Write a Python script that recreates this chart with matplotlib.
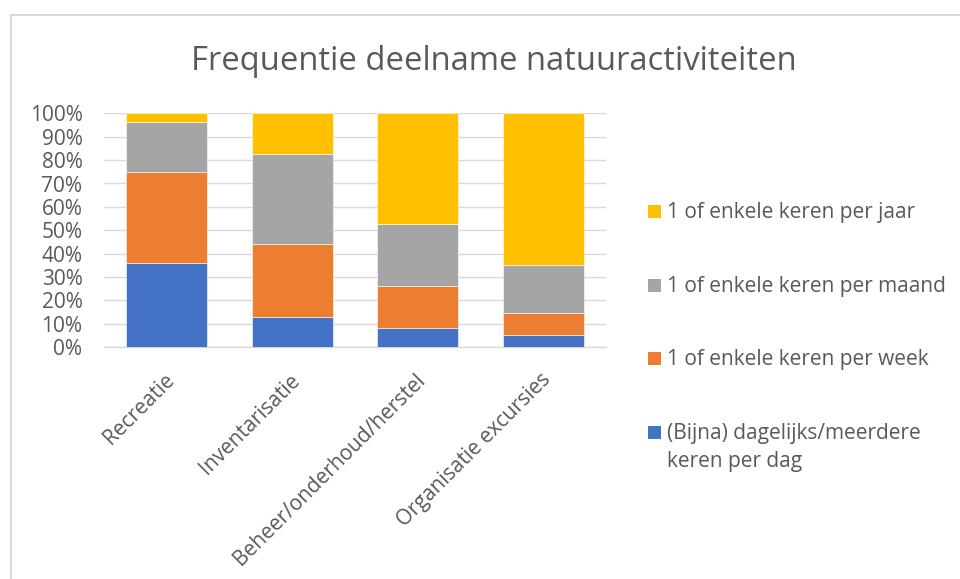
import matplotlib.pyplot as plt
from matplotlib.patches import Rectangle
from matplotlib.ticker import PercentFormatter
import matplotlib.transforms as mtransforms
import numpy as np

plt.rcParams["font.family"] = ["Open Sans", "DejaVu Sans"]

TEXT_COLOR = "#595959"
GRID_COLOR = "#D9D9D9"

categories = ["Recreatie", "Inventarisatie", "Beheer/onderhoud/herstel", "Organisatie excursies"]

# shares per category (percent), bottom to top of each stack
daily = [36.2, 13.1, 8.4, 5.4]
weekly = [38.6, 30.9, 18.0, 9.1]
monthly = [21.6, 38.8, 26.4, 20.5]
yearly = [3.6, 17.2, 47.2, 65.0]

series_names = [
    "(Bijna) dagelijks/meerdere\nkeren per dag",
    "1 of enkele keren per week",
    "1 of enkele keren per maand",
    "1 of enkele keren per jaar",
]
series_colors = ["#4472C4", "#ED7D31", "#A5A5A5", "#FFC000"]

W, H = 960, 579
fig = plt.figure(figsize=(W / 100, H / 100), dpi=100)

# chart border (light frame, right and bottom run off the canvas)
fig.patches.append(Rectangle((11 / W, -0.1), 1.2, 1 - 15 / H + 0.1, transform=fig.transFigure,
                             fill=False, edgecolor=GRID_COLOR, linewidth=1.5))

ax = fig.add_axes([104 / W, 1 - 347.3 / H, 502 / W, 234 / H])

x = np.arange(len(categories))
bottom = np.zeros(len(categories))
for values, color in zip([daily, weekly, monthly, yearly], series_colors):
    ax.bar(x, values, 0.643, bottom=bottom, color=color, edgecolor="white", linewidth=0.4, zorder=3)
    bottom += np.array(values)

ax.set_xlim(-0.5, len(categories) - 0.5)
ax.set_ylim(0, 100)
ax.set_yticks(np.arange(0, 101, 10))
ax.yaxis.set_major_formatter(PercentFormatter(decimals=0))
ax.grid(axis="y", color=GRID_COLOR, linewidth=1.0, zorder=0)

for side in ["top", "right", "left"]:
    ax.spines[side].set_visible(False)
ax.spines["bottom"].set_color(GRID_COLOR)
ax.spines["bottom"].set_linewidth(1.0)

ax.tick_params(axis="both", length=0, labelsize=15, labelcolor=TEXT_COLOR)
ax.tick_params(axis="y", pad=15.5)
ax.set_xticks(x)
ax.set_xticklabels(categories, rotation=45, ha="right", rotation_mode="anchor")
ax.tick_params(axis="x", pad=16)
shift = mtransforms.ScaledTranslation(-3 / 100, 0, fig.dpi_scale_trans)
for lbl in ax.get_xticklabels():
    lbl.set_transform(lbl.get_transform() + shift)

fig.text(493.5 / W, 1 - 69.5 / H, "Frequentie deelname natuuractiviteiten",
         ha="center", va="baseline", fontsize=23.6, color=TEXT_COLOR)

# legend, drawn by hand so the marker sits on the first line of a wrapped label
baseline = 218
for name, color in zip(reversed(series_names), reversed(series_colors)):
    fig.patches.append(Rectangle((648 / W, 1 - baseline / H), 13 / W, 13 / H,
                                 transform=fig.transFigure, facecolor=color, edgecolor="none"))
    for i, line in enumerate(name.split("\n")):
        fig.text(667 / W, 1 - (baseline + 28 * i) / H, line, ha="left", va="baseline",
                 fontsize=15, color=TEXT_COLOR)
    baseline += 73.7

fig.savefig("out.png", dpi=100)
